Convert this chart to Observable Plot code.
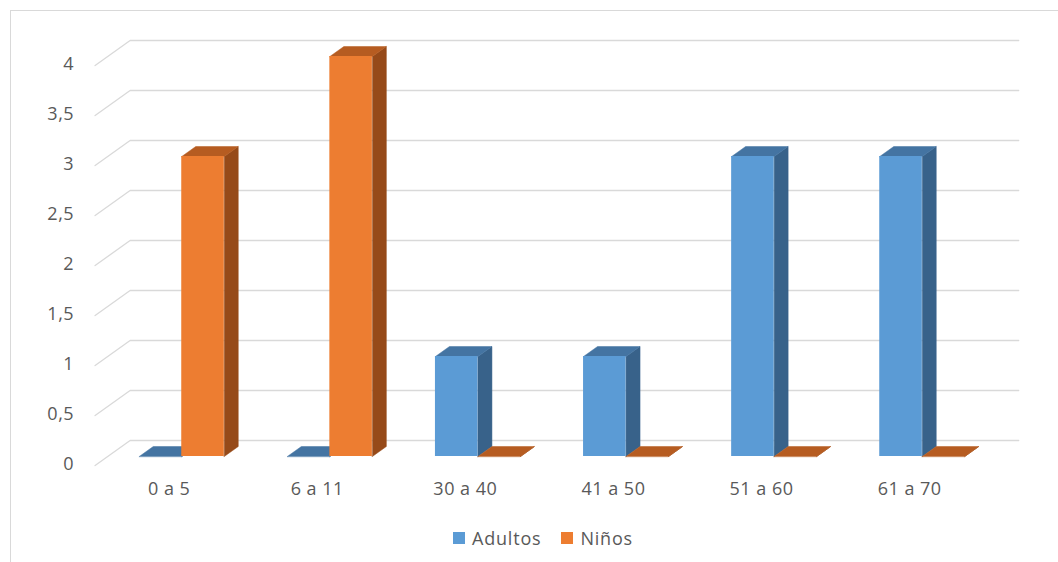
<!DOCTYPE html>
<html lang="es">
<head>
<meta charset="utf-8">
<script src="https://cdn.jsdelivr.net/npm/d3@7"></script>
<script src="https://cdn.jsdelivr.net/npm/@observablehq/plot@0.6"></script>
<style>
  html, body { margin: 0; padding: 0; background: #fff; overflow: hidden; }
  #chart { position: relative; width: 1058px; height: 562px; font-family: "Open Sans", sans-serif; color: #595959; }
  #frame { position: absolute; left: 10px; top: 10px; width: 1100px; height: 600px; border: 1px solid #d9d9d9; }
  #plot { position: absolute; left: 0; top: 0; }
  #legend { position: absolute; left: 453px; top: 524px; height: 28px; display: flex; align-items: center; font-size: 18px; letter-spacing: 0.8px; }
  .item { display: flex; align-items: center; margin-right: 20px; }
  .swatch { width: 12px; height: 12px; margin-right: 7px; }
</style>
</head>
<body>
<div id="chart">
  <div id="frame"></div>
  <div id="plot"></div>
  <div id="legend"></div>
</div>
<script>
// Age groups and counts per group
const categories = ["0 a 5", "6 a 11", "30 a 40", "41 a 50", "51 a 60", "61 a 70"];
const adultos = [0, 0, 1, 1, 3, 3];
const ninos = [3, 4, 0, 0, 0, 0];
const seriesNames = ["Adultos", "Niños"];
const yTicks = [0, 0.5, 1, 1.5, 2, 2.5, 3, 3.5, 4];

// Face colours per series: front, top, side
const frontColors = ["#5B9BD5", "#ED7D31"];
const topColors = ["#4474A2", "#B65C21"];
const sideColors = ["#38628A", "#964A19"];

const W = 1058, H = 520;
const xRange = [107.2, 107.2 + 148.1 * categories.length];
const yRange = [456, 56];
const yMax = 4;
const kx = (xRange[1] - xRange[0]) / categories.length; // px per category
const ky = (yRange[0] - yRange[1]) / yMax;               // px per unit

// Oblique projection: d is the depth in px behind the bars' front plane
const SLANT = 1.4;
const D_FRONT = -9, D_BAR = 10, D_WALL = 16;
const BAR_W = 42.5 / kx;
function proj(x, y, d) { return {x: x + SLANT * d / kx, y: y + d / ky}; }

// Back wall gridlines with the receding left edge
const grid = yTicks.flatMap((t) => [
  {...proj(0, t, D_FRONT), t},
  {...proj(0, t, D_WALL), t},
  {...proj(categories.length, t, D_WALL), t}
]);

// Bar faces
const fronts = [], tops = [], sides = [];
[adultos, ninos].forEach((values, s) => {
  values.forEach((v, i) => {
    const x0 = s === 0 ? i + 0.5 - BAR_W : i + 0.5;
    const x1 = x0 + BAR_W;
    const id = `${s}-${i}`;
    fronts.push({s, x0, x1, v});
    [proj(x0, v, 0), proj(x0, v, D_BAR), proj(x1, v, D_BAR), proj(x1, v, 0)]
      .forEach((p) => tops.push({...p, s, id}));
    [proj(x1, 0, 0), proj(x1, 0, D_BAR), proj(x1, v, D_BAR), proj(x1, v, 0)]
      .forEach((p) => sides.push({...p, s, id}));
  });
});

const faceMarks = [0, 1].flatMap((s) => [
  Plot.line(sides.filter((d) => d.s === s), {x: "x", y: "y", z: "id", curve: "linear-closed",
    fill: sideColors[s], stroke: sideColors[s], strokeWidth: 0.5}),
  Plot.line(tops.filter((d) => d.s === s), {x: "x", y: "y", z: "id", curve: "linear-closed",
    fill: topColors[s], stroke: topColors[s], strokeWidth: 0.5}),
  Plot.rect(fronts.filter((d) => d.s === s), {x1: "x0", x2: "x1", y1: 0, y2: "v",
    fill: frontColors[s]})
]);

const tickLabels = yTicks.map((t) => ({...proj(0, t, D_FRONT), label: String(t).replace(".", ",")}));
const catLabels = categories.map((c, i) => ({...proj(i + 0.5, 0, D_FRONT), label: c}));

const chart = Plot.plot({
  width: W,
  height: H,
  margin: 0,
  x: {type: "linear", domain: [0, categories.length], range: xRange, axis: null},
  y: {type: "linear", domain: [0, yMax], range: yRange, axis: null},
  style: {background: "transparent", fontFamily: "Open Sans, sans-serif", color: "#595959", letterSpacing: "0.5px"},
  marks: [
    Plot.line(grid, {x: "x", y: "y", z: "t", stroke: "#d9d9d9", strokeWidth: 1.3}),
    ...faceMarks,
    Plot.text(tickLabels, {x: "x", y: "y", text: "label", textAnchor: "end", dx: -21, dy: -1,
      fill: "#595959", fontSize: 18}),
    Plot.text(catLabels, {x: "x", y: "y", text: "label", dy: 24, fill: "#595959", fontSize: 18})
  ]
});
document.getElementById("plot").appendChild(chart);

// Legend below the plot
const legend = document.getElementById("legend");
seriesNames.forEach((name, s) => {
  const item = document.createElement("div");
  item.className = "item";
  const sw = document.createElement("span");
  sw.className = "swatch";
  sw.style.background = frontColors[s];
  const tx = document.createElement("span");
  tx.textContent = name;
  item.append(sw, tx);
  legend.appendChild(item);
});
</script>
</body>
</html>
